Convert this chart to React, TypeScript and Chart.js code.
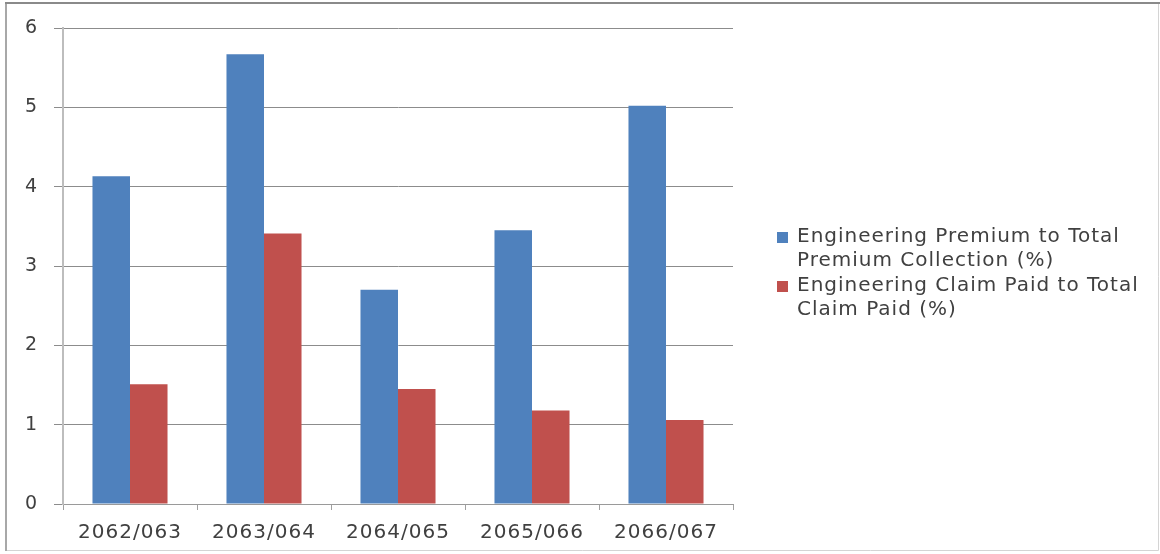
import React, { useEffect, useRef } from "react";
import { Chart, registerables } from "chart.js";

Chart.register(...registerables);

const categories = ["2062/063", "2063/064", "2064/065", "2065/066", "2066/067"];
const premiumShare = [4.13, 5.67, 2.7, 3.45, 5.02];
const claimShare = [1.51, 3.41, 1.45, 1.18, 1.06];
const premiumLabelLines = ["Engineering Premium to Total", "Premium Collection (%)"];
const claimLabelLines = ["Engineering Claim Paid to Total", "Claim Paid (%)"];
const yTicks = [0, 1, 2, 3, 4, 5, 6];

const BLUE = "#4F81BD";
const RED = "#C0504D";
const TEXT = "#404040";
const FONT = '"DejaVu Sans", sans-serif';
const SPACING = "1px";

const spacingPlugin = {
  id: "spacing",
  beforeUpdate(chart: any) {
    chart.ctx.letterSpacing = SPACING;
  },
  beforeLayout(chart: any) {
    chart.ctx.letterSpacing = SPACING;
  },
  beforeDraw(chart: any) {
    chart.ctx.letterSpacing = SPACING;
  },
};

const legendPlugin = {
  id: "sideLegend",
  afterDraw(chart: any) {
    const ctx = chart.ctx;
    const area = chart.chartArea;
    ctx.save();
    ctx.letterSpacing = SPACING;
    ctx.font = `20px ${FONT}`;
    ctx.textBaseline = "middle";
    ctx.textAlign = "left";
    chart.data.datasets.forEach((ds: any, i: number) => {
      const y0 = 237 + i * 49;
      const x0 = area.right + 44;
      ctx.fillStyle = ds.backgroundColor;
      ctx.fillRect(x0, y0 - 5, 11, 11);
      ctx.fillStyle = TEXT;
      (ds.legendLines as string[]).forEach((ln, j) => {
        ctx.fillText(ln, x0 + 20, y0 + j * 24);
      });
    });
    ctx.restore();
  },
};

const framePlugin = {
  id: "frame",
  afterDraw(chart: any) {
    const ctx = chart.ctx;
    const w = chart.width;
    const h = chart.height;
    ctx.save();
    ctx.strokeStyle = "#d4d4d4";
    ctx.lineWidth = 1;
    ctx.beginPath();
    ctx.moveTo(w - 1.5, 3);
    ctx.lineTo(w - 1.5, h - 3.5);
    ctx.lineTo(6, h - 3.5);
    ctx.stroke();
    ctx.strokeStyle = "#a8a8a8";
    ctx.lineWidth = 2;
    ctx.beginPath();
    ctx.moveTo(6, h - 3);
    ctx.lineTo(6, 3);
    ctx.stroke();
    ctx.strokeStyle = "#8a8a8a";
    ctx.beginPath();
    ctx.moveTo(5, 3);
    ctx.lineTo(w, 3);
    ctx.stroke();
    ctx.restore();
  },
};

export default function App() {
  const canvasRef = useRef<HTMLCanvasElement | null>(null);

  useEffect(() => {
    document.body.style.margin = "0";
    const canvas = canvasRef.current;
    if (!canvas) return;
    const chart = new Chart(canvas, {
      type: "bar",
      data: {
        labels: categories,
        datasets: [
          {
            label: premiumLabelLines.join(" "),
            legendLines: premiumLabelLines,
            data: premiumShare,
            backgroundColor: BLUE,
            borderWidth: 0,
            categoryPercentage: 0.56,
            barPercentage: 1.0,
          } as any,
          {
            label: claimLabelLines.join(" "),
            legendLines: claimLabelLines,
            data: claimShare,
            backgroundColor: RED,
            borderWidth: 0,
            categoryPercentage: 0.56,
            barPercentage: 1.0,
          } as any,
        ],
      },
      options: {
        animation: false,
        responsive: true,
        maintainAspectRatio: false,
        layout: { padding: { left: 0, right: 427, top: 28, bottom: 0 } },
        plugins: {
          legend: { display: false },
          tooltip: { enabled: false },
          title: { display: false },
        },
        scales: {
          x: {
            offset: true,
            grid: {
              display: true,
              drawOnChartArea: false,
              drawTicks: true,
              tickLength: 6,
              color: "#a0a0a0",
              offset: true,
            },
            border: { display: true, color: "#9a9a9a", width: 1 },
            ticks: {
              color: TEXT,
              font: { family: FONT, size: 20 },
              padding: 11,
              maxRotation: 0,
              autoSkip: false,
            },
            afterFit: (scale: any) => {
              scale.height = 50;
            },
          },
          y: {
            min: 0,
            max: 6,
            grid: {
              color: "#8c8c8c",
              lineWidth: 1,
              tickLength: 9,
              drawTicks: true,
            },
            border: { display: true, color: "#bdbdbd", width: 2 },
            ticks: {
              color: TEXT,
              font: { family: FONT, size: 19 },
              padding: 16,
              stepSize: 1,
            },
            afterBuildTicks: (scale: any) => {
              scale.ticks = yTicks.map((v) => ({ value: v }));
            },
            afterFit: (scale: any) => {
              scale.width = 63;
            },
          },
        },
      },
      plugins: [spacingPlugin, legendPlugin, framePlugin],
    });
    return () => chart.destroy();
  }, []);

  return (
    <div style={{ position: "relative", width: 1160, height: 554, background: "#ffffff" }}>
      <canvas ref={canvasRef} />
    </div>
  );
}
